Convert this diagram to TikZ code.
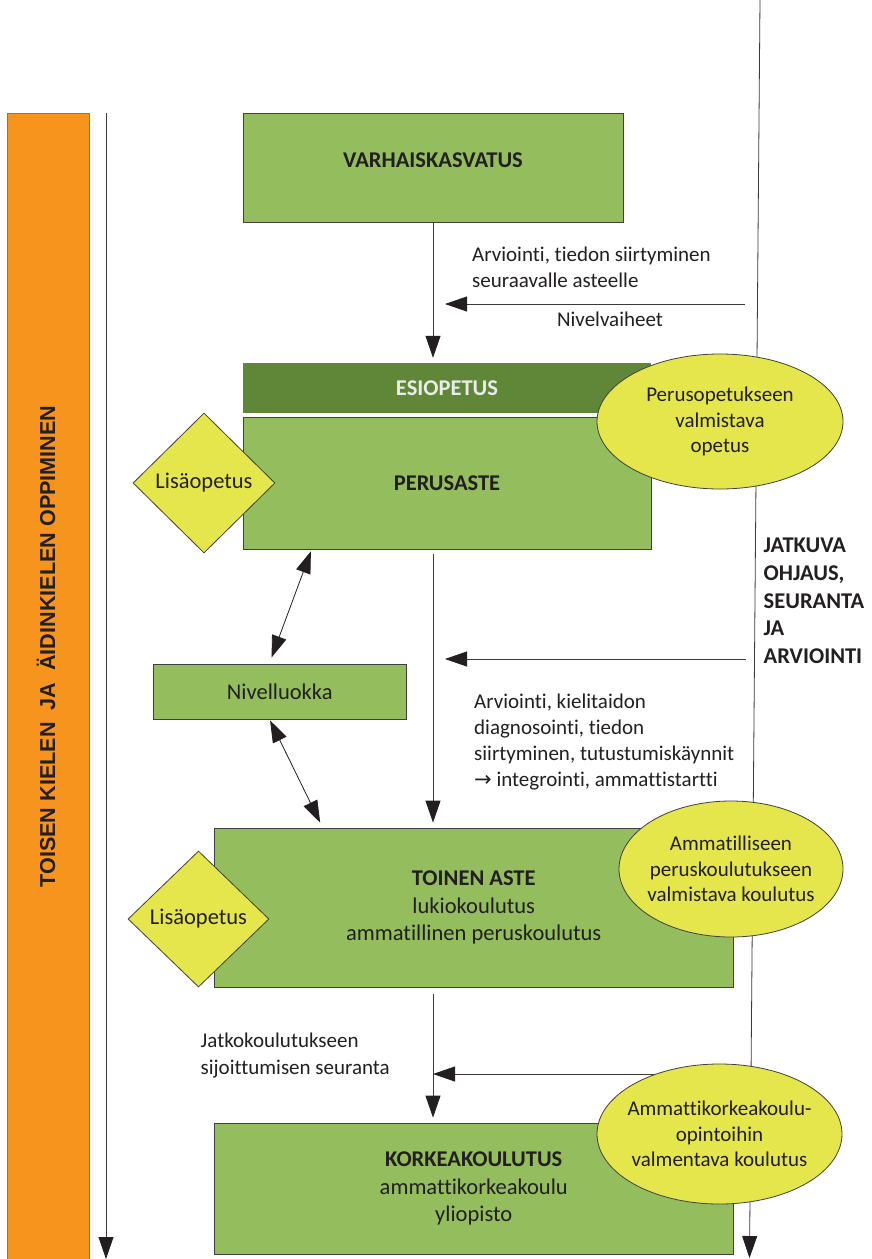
\documentclass[tikz,border=0pt]{standalone}
\usepackage{fontspec}
\setmainfont{Carlito}[Ligatures=NoCommon]
\newfontfamily\sidefont{Liberation Sans}
\newfontfamily\symfont{DejaVu Sans}
\usetikzlibrary{arrows.meta,shapes.geometric,backgrounds}
\definecolor{lgreen}{HTML}{94BD5E}
\definecolor{dgreen}{HTML}{5F8737}
\definecolor{yel}{HTML}{E5E64C}
\definecolor{orng}{HTML}{F7941D}
\definecolor{rim}{HTML}{404040}
\definecolor{wire}{HTML}{3A3A3A}
\definecolor{ink}{HTML}{231F20}
\newcommand\fsB{\fontsize{22.5}{27.7}\selectfont}
\newcommand\fsE{\fontsize{21}{25.7}\selectfont}
\newcommand\fsA{\fontsize{21}{26.3}\selectfont}
\newcommand\fsS{\fontsize{21.6}{26}\selectfont}

\begin{document}
\begin{tikzpicture}[x=1pt,y=-1pt,
  gbox/.style={draw=rim,line width=0.8pt,fill=lgreen,text=ink,font=\fsB,align=center,inner sep=0},
  ebox/.style={fill=dgreen,text=white!92!black,font=\fsB\bfseries,inner sep=0},
  oval/.style={ellipse,draw=rim,line width=0.8pt,fill=yel,text=ink,font=\fsE,align=center,inner sep=-14pt},
  rhomb/.style={diamond,draw=rim,line width=0.8pt,fill=yel,text=ink,font=\fsB,inner sep=0},
  note/.style={font=\fsA,text=ink,align=left,inner sep=0},
  boldnote/.style={font=\fsB\bfseries,text=ink,align=left,inner sep=0},
  flow/.style={wire,line width=0.8pt,-{Triangle[length=22pt,width=15pt,color=ink]}},
  twoway/.style={ink,line width=0.8pt,{Triangle[length=22pt,width=15pt]}-{Triangle[length=22pt,width=15pt]}}]
\useasboundingbox (0,0) rectangle (871,1259);
% ============ side bar ============
\node[draw=rim!70,fill=orng,minimum width=82pt,minimum height=1152pt,inner sep=0,anchor=north west] (bar) at (7,113) {};
\node[rotate=90,anchor=base,font=\sidefont\bfseries\fsS,text=ink,inner sep=0] (side) at (55,646.5) {TOISEN KIELEN\ \ JA\ \ ÄIDINKIELEN OPPIMINEN};
\coordinate (ltop) at (106,113);
\coordinate (lbot) at (106,1259);
\draw[flow] (ltop) -- (lbot);
% ============ stages ============
\node[gbox,minimum width=380pt,minimum height=109pt] (varh) at (433,167.5) {\raisebox{0pt}[0pt][0pt]{\bfseries VARHAISKASVATUS}};
\node[ebox,minimum width=408pt,minimum height=50pt] (esio) at (447,388) {ESIOPETUS};
\node[gbox,minimum width=408pt,minimum height=132pt] (perus) at (447,483) {\bfseries PERUSASTE};
\node[gbox,minimum width=252.5pt,minimum height=54.5pt] (nivel) at (279.75,691.75) {Nivelluokka};
\node[gbox,minimum width=518.5pt,minimum height=159pt] (toinen) at (473.75,907.5) {\textbf{TOINEN ASTE}\\lukiokoulutus\\ammatillinen peruskoulutus};
\node[gbox,minimum width=518.5pt,minimum height=131pt] (korkea) at (473.75,1188.5) {\textbf{KORKEAKOULUTUS}\\ammattikorkeakoulu\\yliopisto};
% ============ guidance line (behind) ============
\begin{pgfonlayer}{background}
\coordinate (rtop) at (760,0);
\coordinate (rbot) at (749.5,1258);
\draw[flow] (rtop) -- (rbot);
\coordinate (n1) at (745,304);
\coordinate (n2) at (746,659);
\coordinate (n3) at (751,1074);
\draw[flow,shorten >=12pt] (n1) -- (n1 -| varh.south);
\draw[flow,shorten >=12pt] (n2) -- (n2 -| varh.south);
\draw[flow] (n3) -- (n3 -| varh.south);
\end{pgfonlayer}
% transitions
\draw[flow,shorten >=5pt] (varh.south) -- (varh.south |- esio.north);
\draw[flow,shorten <=5pt,shorten >=5pt] (varh.south |- perus.south) -- (varh.south |- toinen.north);
\draw[flow,shorten <=7pt,shorten >=5pt] (varh.south |- toinen.south) -- (varh.south |- korkea.north);
\draw[twoway,shorten <=2pt,shorten >=7pt] ([xshift=69pt]perus.south west) -- ([xshift=116pt]nivel.north west);
\draw[twoway,shorten <=1pt,shorten >=5.5pt] ([xshift=116.5pt]nivel.south west) -- ([xshift=108.5pt]toinen.north west);
% ============ preparatory education ============
\node[oval,minimum width=246pt,minimum height=135pt] (prep1) at (720,421.5) {Perusopetukseen\\valmistava\\opetus};
\node[oval,minimum width=224pt,minimum height=136pt] (prep2) at (731,869) {Ammatilliseen\\peruskoulutukseen\\valmistava koulutus};
\node[oval,minimum width=245pt,minimum height=140pt] (prep3) at (719.5,1134) {Ammattikorkeakoulu-\\opintoihin\\valmentava koulutus};
\node[rhomb,minimum width=142pt,minimum height=140pt] (lisa1) at (204,483) {Lisäopetus};
\node[rhomb,minimum width=141pt,minimum height=136pt] (lisa2) at (198.5,919) {Lisäopetus};
% ============ notes ============
\node[note,anchor=west] (t1) at (472,267.5) {Arviointi, tiedon siirtyminen\\seuraavalle asteelle};
\node[note] (t2) at (610,319) {Nivelvaiheet};
\node[note,anchor=west] (t3) at (474,742) {Arviointi, kielitaidon\\diagnosointi, tiedon\\siirtyminen, tutustumiskäynnit\\{\symfont →} integrointi, ammattistartti};
\node[note,anchor=west] (t4) at (200.5,1055.5) {Jatkokoulutukseen\\sijoittumisen seuranta};
\node[boldnote,anchor=west] (jatk) at (763.5,601) {JATKUVA\\OHJAUS,\\SEURANTA\\JA\\ARVIOINTI};
\end{tikzpicture}
\end{document}
